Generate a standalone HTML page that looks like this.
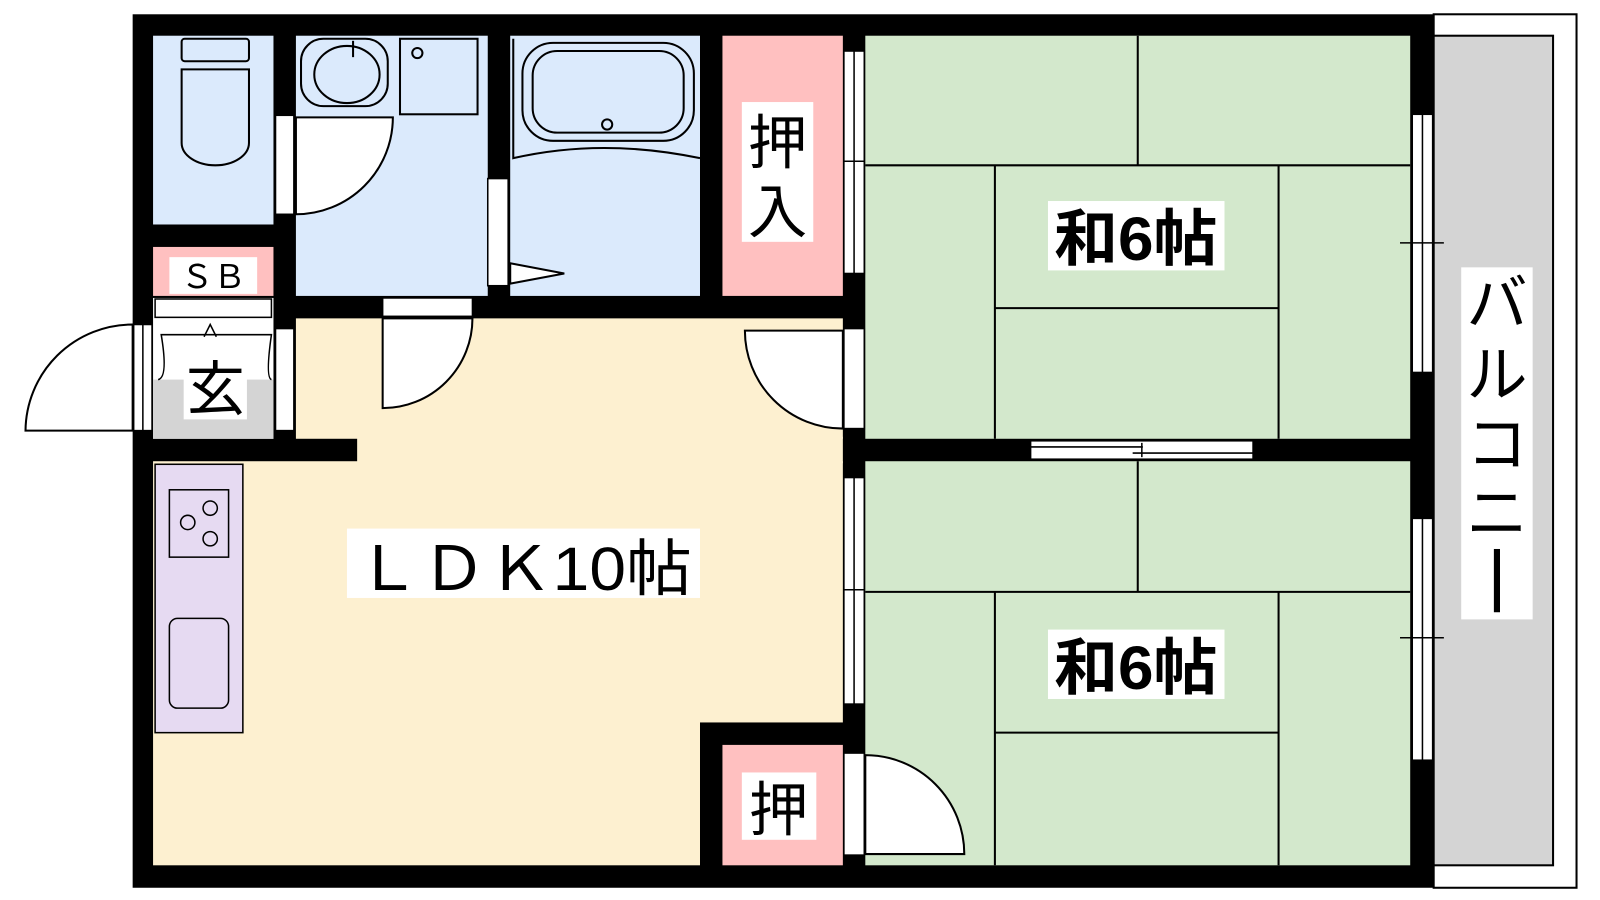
<!DOCTYPE html>
<html><head><meta charset="utf-8"><style>
html,body{margin:0;padding:0;background:#fff;}
svg{display:block;}
text{font-family:"Liberation Sans","Noto Sans CJK JP",sans-serif;fill:#000;}
</style></head><body>
<svg width="1600" height="900" viewBox="0 0 1568 882" preserveAspectRatio="none" xmlns="http://www.w3.org/2000/svg">
<rect width="1568" height="882" fill="#fff"/>
<rect x="1405" y="14" width="140" height="856" fill="#fff" stroke="#000" stroke-width="2"/>
<rect x="1405" y="35" width="117" height="813" fill="#d4d4d4" stroke="#000" stroke-width="2"/>
<rect x="130" y="14" width="1275" height="856" fill="#000"/>
<rect x="150" y="35" width="118" height="185" fill="#dbeafc"/>
<rect x="290" y="35" width="188" height="255" fill="#dbeafc"/>
<rect x="500" y="35" width="186" height="255" fill="#dbeafc"/>
<rect x="708" y="35" width="118" height="255" fill="#ffc0c0"/>
<rect x="150" y="242" width="118" height="48" fill="#ffc0c0"/>
<rect x="150" y="292" width="118" height="138" fill="#fff"/>
<rect x="150" y="372" width="118" height="58" fill="#d4d4d4"/>
<rect x="290" y="312" width="536" height="118" fill="#fdf0d0"/>
<rect x="350" y="428" width="476" height="26" fill="#fdf0d0"/>
<rect x="150" y="452" width="536" height="396" fill="#fdf0d0"/>
<rect x="686" y="452" width="140" height="256" fill="#fdf0d0"/>
<rect x="152" y="455" width="86" height="263" fill="#e6daf2" stroke="#000" stroke-width="1.5"/>
<rect x="166" y="480" width="58" height="66" fill="none" stroke="#000" stroke-width="1.5"/>
<circle cx="184" cy="512" r="7" fill="none" stroke="#000" stroke-width="1.5"/>
<circle cx="206" cy="498" r="7" fill="none" stroke="#000" stroke-width="1.5"/>
<circle cx="206" cy="528" r="7" fill="none" stroke="#000" stroke-width="1.5"/>
<rect x="166" y="606" width="58" height="88" rx="8" fill="none" stroke="#000" stroke-width="1.5"/>
<rect x="708" y="730" width="118" height="118" fill="#ffc0c0"/>
<rect x="848" y="35" width="534" height="395" fill="#d3e8cc"/>
<rect x="848" y="452" width="534" height="396" fill="#d3e8cc"/>
<g stroke="#000" stroke-width="2" fill="none">
<line x1="1115" y1="35" x2="1115" y2="162"/><line x1="848" y1="162" x2="1382" y2="162"/>
<line x1="975" y1="162" x2="975" y2="430"/><line x1="1253" y1="162" x2="1253" y2="430"/>
<line x1="975" y1="302" x2="1253" y2="302"/>
<line x1="1115" y1="452" x2="1115" y2="580"/><line x1="848" y1="580" x2="1382" y2="580"/>
<line x1="975" y1="580" x2="975" y2="848"/><line x1="1253" y1="580" x2="1253" y2="848"/>
<line x1="975" y1="718" x2="1253" y2="718"/>
</g>
<g fill="#fff" stroke="#000" stroke-width="1.5">
<rect x="1384" y="112" width="20" height="253"/><rect x="1384" y="508" width="20" height="237"/>
<rect x="1010" y="432" width="218" height="18"/>
<rect x="827" y="50" width="20" height="218"/><rect x="827" y="468" width="20" height="222"/>
<rect x="131" y="318" width="18" height="104"/>
<rect x="270" y="322" width="18" height="100"/>
<rect x="478" y="175" width="20" height="105"/>
<rect x="270" y="113" width="18" height="97"/>
<rect x="375" y="292" width="88" height="18"/>
<rect x="152" y="293" width="114" height="18"/>
<rect x="827" y="322" width="20" height="98"/>
<rect x="827" y="738" width="20" height="100"/>
</g>
<g stroke="#000" stroke-width="1.5" fill="none">
<line x1="1394" y1="112" x2="1394" y2="365"/><line x1="1394" y1="508" x2="1394" y2="745"/>
<line x1="1372" y1="238" x2="1415" y2="238"/><line x1="1372" y1="625" x2="1415" y2="625"/>
<line x1="1010" y1="438" x2="1120" y2="438"/><line x1="1110" y1="444" x2="1228" y2="444"/><line x1="1119" y1="434" x2="1119" y2="448"/>
<line x1="837" y1="50" x2="837" y2="268"/><line x1="837" y1="468" x2="837" y2="690"/>
<line x1="827" y1="158" x2="847" y2="158"/><line x1="827" y1="578" x2="847" y2="578"/>
<line x1="140" y1="318" x2="140" y2="422"/>
</g>
<g stroke="#000" stroke-width="2" fill="#fff">
<path d="M130 422 L25 422 A105 105 0 0 1 130 318 Z"/>
<path d="M290 210 L290 115 L385 115 A95 95 0 0 1 290 210 Z"/>
<path d="M375 312 L463 312 A88 88 0 0 1 375 400 Z"/>
<path d="M826 420 A96 96 0 0 1 730 324 L826 324 Z"/>
<path d="M848 740 A97 97 0 0 1 945 837 L848 837 Z"/>
<path d="M500 258 L553 268 L500 278 Z"/>
<path d="M155 372 Q165 370 158 328 L266 328 Q260 370 266 372" fill="none" stroke-width="1.5"/>
<path d="M200 330 L206 318 L212 330" fill="none" stroke-width="1.5"/>
</g>
<g stroke="#000" stroke-width="2" fill="none">
<rect x="178" y="38" width="66" height="22" rx="3"/>
<path d="M178 68 H244 V140 A33 22 0 0 1 178 140 Z"/>
<rect x="295" y="38" width="85" height="66" rx="22"/>
<ellipse cx="340" cy="73" rx="32" ry="28"/>
<line x1="346" y1="40" x2="346" y2="56"/>
<rect x="392" y="38" width="76" height="74"/>
<circle cx="409" cy="52" r="5"/>
<path d="M503 38 V155 Q590 135 686 155"/>
<rect x="512" y="42" width="168" height="96" rx="30"/>
<rect x="522" y="50" width="148" height="80" rx="24"/>
<circle cx="595" cy="122" r="5"/>
</g>
<rect x="166" y="252" width="86" height="36" fill="#fff"/>
<text x="209" y="282" font-size="32" text-anchor="middle">ＳＢ</text>
<rect x="180" y="345" width="62" height="66" fill="#fff"/>
<text x="211" y="402" font-size="58" text-anchor="middle">玄</text>
<rect x="727" y="100" width="70" height="137" fill="#fff"/>
<text x="762" y="160" font-size="58" text-anchor="middle">押</text>
<text x="762" y="228" font-size="58" text-anchor="middle">入</text>
<rect x="727" y="757" width="73" height="66" fill="#fff"/>
<text x="763" y="814" font-size="58" text-anchor="middle">押</text>
<rect x="1027" y="197" width="173" height="68" fill="#fff"/>
<text x="1113" y="255" font-size="60" font-weight="bold" text-anchor="middle" textLength="160" lengthAdjust="spacingAndGlyphs">和6帖</text>
<rect x="1027" y="617" width="173" height="68" fill="#fff"/>
<text x="1113" y="675" font-size="60" font-weight="bold" text-anchor="middle" textLength="160" lengthAdjust="spacingAndGlyphs">和6帖</text>
<rect x="340" y="518" width="346" height="68" fill="#fff"/>
<text x="513" y="578" font-size="60" text-anchor="middle" textLength="330" lengthAdjust="spacingAndGlyphs">ＬＤＫ10帖</text>
<rect x="1432" y="262" width="70" height="345" fill="#fff"/>
<text x="1467" y="318" font-size="60" text-anchor="middle">バ</text>
<text x="1467" y="388" font-size="60" text-anchor="middle">ル</text>
<text x="1467" y="456" font-size="60" text-anchor="middle">コ</text>
<text x="1467" y="524" font-size="60" text-anchor="middle">ニ</text>
<rect x="1464" y="538" width="6" height="62" fill="#000"/>
</svg>
</body></html>
